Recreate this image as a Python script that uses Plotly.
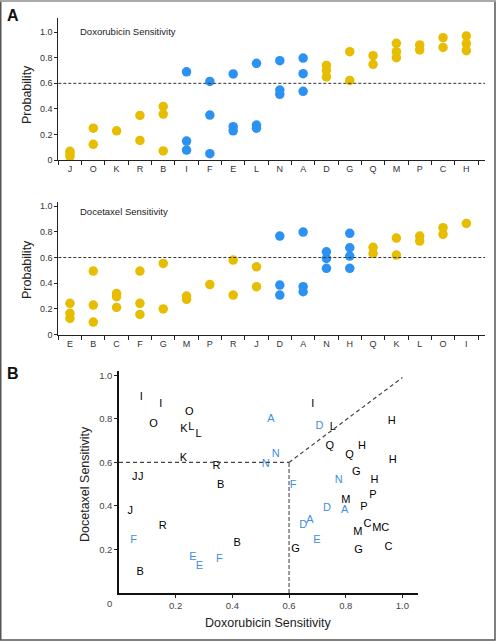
import plotly.graph_objects as go

W, H = 496, 641

# ---------------- data ----------------
dox_cats = ["J", "O", "K", "R", "B", "I", "F", "E", "L", "N", "A", "D", "G", "Q", "M", "P", "C", "H"]
dox_vals = [
    [0.07, 0.05, 0.03], [0.25, 0.125], [0.23], [0.35, 0.155], [0.42, 0.36, 0.073],
    [0.69, 0.15, 0.08], [0.615, 0.353, 0.052], [0.673, 0.262, 0.23], [0.756, 0.275, 0.25],
    [0.777, 0.548, 0.514], [0.797, 0.675, 0.538], [0.74, 0.70, 0.65], [0.847, 0.623],
    [0.816, 0.748], [0.912, 0.847, 0.80], [0.899, 0.86], [0.956, 0.88], [0.969, 0.91, 0.855],
]
dox_blue = ["I", "F", "E", "L", "N", "A"]

doc_cats = ["E", "B", "C", "F", "G", "M", "P", "R", "J", "D", "A", "N", "H", "Q", "K", "L", "O", "I"]
doc_vals = [
    [0.244, 0.166, 0.127], [0.495, 0.23, 0.098], [0.32, 0.295, 0.212], [0.495, 0.244, 0.158],
    [0.554, 0.20], [0.30, 0.275], [0.39], [0.58, 0.308], [0.528, 0.373],
    [0.767, 0.386, 0.308], [0.798, 0.373, 0.334], [0.645, 0.593, 0.516],
    [0.788, 0.676, 0.611, 0.516], [0.679, 0.632], [0.751, 0.619], [0.767, 0.728],
    [0.832, 0.78], [0.865],
]
doc_blue = ["D", "A", "N", "H"]

threshold = 0.6

scatter_labels = ["I", "I", "O", "O", "K", "L", "L", "K", "R", "B", "J", "J", "J", "R", "F", "B",
                  "E", "E", "F", "B", "A", "N", "N", "I", "D", "L", "Q", "H", "Q", "H", "H", "G",
                  "F", "N", "H", "P", "M", "P", "D", "A", "A", "D", "C", "M", "C", "M", "E", "G",
                  "G", "C"]
scatter_dox = [0.079, 0.147, 0.248, 0.122, 0.229, 0.255, 0.281, 0.227, 0.344, 0.359, 0.056, 0.077,
               0.040, 0.154, 0.052, 0.075, 0.261, 0.284, 0.354, 0.417, 0.536, 0.553, 0.518, 0.684,
               0.707, 0.754, 0.744, 0.857, 0.813, 0.962, 0.966, 0.837, 0.614, 0.775, 0.901, 0.896,
               0.800, 0.864, 0.734, 0.796, 0.674, 0.650, 0.877, 0.910, 0.939, 0.843, 0.698, 0.623,
               0.845, 0.951]
scatter_doc = [0.900, 0.866, 0.830, 0.777, 0.754, 0.760, 0.730, 0.621, 0.584, 0.493, 0.533, 0.533,
               0.374, 0.309, 0.243, 0.096, 0.165, 0.124, 0.157, 0.229, 0.799, 0.639, 0.592, 0.866,
               0.767, 0.760, 0.676, 0.676, 0.635, 0.788, 0.612, 0.556, 0.495, 0.518, 0.517, 0.451,
               0.425, 0.394, 0.389, 0.380, 0.334, 0.311, 0.318, 0.297, 0.297, 0.280, 0.243, 0.200,
               0.196, 0.209]
scatter_blue_letters = ["A", "D", "E", "F", "N"]

diag_end = (1.0, 0.99)

# ---------------- styling ----------------
YELLOW = "#E6BD00"
BLUE = "#2C92F2"
LBLUE = "#3D8FE0"
FONT = "Liberation Sans, Arial, Helvetica, sans-serif"


def px(x):
    return x / W


def py(y):
    return 1 - y / H


fig = go.Figure()


def add_dot_panel(cats, vals, blues, xa, ya):
    for color, pick in ((YELLOW, lambda c: c not in blues), (BLUE, lambda c: c in blues)):
        xs, ys = [], []
        for c, v in zip(cats, vals):
            if pick(c):
                for val in v:
                    xs.append(c)
                    ys.append(val)
        fig.add_trace(go.Scatter(x=xs, y=ys, mode="markers", xaxis=xa, yaxis=ya,
                                 marker=dict(color=color, size=9.5, line=dict(width=0)),
                                 showlegend=False, hoverinfo="skip"))


add_dot_panel(dox_cats, dox_vals, dox_blue, "x", "y")
add_dot_panel(doc_cats, doc_vals, doc_blue, "x2", "y2")

colors_b = [LBLUE if l in scatter_blue_letters else "#000000" for l in scatter_labels]
fig.add_trace(go.Scatter(x=scatter_dox, y=scatter_doc, mode="text", text=scatter_labels,
                         textposition="middle center", xaxis="x3", yaxis="y3",
                         textfont=dict(family=FONT, size=11, color=colors_b),
                         showlegend=False, hoverinfo="skip"))

# ---------------- axes ----------------
common_y = dict(tickvals=[0, 0.2, 0.4, 0.6, 0.8, 1.0], ticktext=["0", "0.2", "0.4", "0.6", "0.8", "1.0"],
                ticks="outside", ticklen=3, tickwidth=1, tickcolor="#222", showline=True,
                linecolor="#222", linewidth=1, showgrid=False, zeroline=False,
                tickfont=dict(family=FONT, size=9, color="#333"), automargin=False)
common_x = dict(type="category", tickson="boundaries", ticks="outside", ticklen=4, tickwidth=1,
                tickcolor="#222", showline=True, linecolor="#222", linewidth=1, showgrid=False,
                zeroline=False, tickfont=dict(family=FONT, size=9, color="#333"), automargin=False,
                range=[-0.5, 17.8])

fig.update_layout(
    xaxis=dict(common_x, domain=[px(58.3), px(485)], anchor="y", categoryarray=dox_cats,
               categoryorder="array"),
    yaxis=dict(common_y, domain=[py(160.3), py(18.3)], anchor="x", range=[0, 1.107]),
    xaxis2=dict(common_x, domain=[px(58.3), px(485)], anchor="y2", categoryarray=doc_cats,
                categoryorder="array"),
    yaxis2=dict(common_y, domain=[py(334.7), py(201.7)], anchor="x2", range=[0, 1.034]),
    xaxis3=dict(domain=[px(119), px(418.3)], anchor="y3", range=[0, 1.056],
                tickvals=[0.2, 0.4, 0.6, 0.8, 1.0], ticktext=["0.2", "0.4", "0.6", "0.8", "1.0"],
                ticks="outside", ticklen=3, tickcolor="#222", showline=True, linecolor="#111",
                linewidth=1.5, showgrid=False, zeroline=False,
                tickfont=dict(family=FONT, size=9.5, color="#444"), automargin=False),
    yaxis3=dict(domain=[py(593), py(371)], anchor="x3", range=[0, 1.02],
                tickvals=[0.2, 0.4, 0.6, 0.8, 1.0], ticktext=["0.2", "0.4", "0.6", "0.8", "1.0"],
                ticks="outside", ticklen=3, tickcolor="#222", showline=True, linecolor="#111",
                linewidth=1.5, showgrid=False, zeroline=False,
                tickfont=dict(family=FONT, size=9.5, color="#444"), automargin=False),
)

# ---------------- shapes ----------------
shapes = [
    dict(type="line", xref="x domain", yref="y", x0=0, x1=1, y0=threshold, y1=threshold,
         line=dict(color="#333", width=1, dash="3px,2px")),
    dict(type="line", xref="x2 domain", yref="y2", x0=0, x1=1, y0=threshold, y1=threshold,
         line=dict(color="#333", width=1, dash="3px,2px")),
    dict(type="line", xref="x3", yref="y3", x0=0, x1=threshold, y0=threshold, y1=threshold,
         line=dict(color="#444", width=1.2, dash="4px,3px")),
    dict(type="line", xref="x3", yref="y3", x0=threshold, x1=threshold, y0=0, y1=threshold,
         line=dict(color="#666", width=1.3, dash="4px,2px")),
    dict(type="line", xref="x3", yref="y3", x0=threshold, x1=diag_end[0], y0=threshold, y1=diag_end[1],
         line=dict(color="#444", width=1.2, dash="4px,3px")),
    dict(type="rect", xref="paper", yref="paper", x0=px(0.75), x1=px(W - 1), y0=py(H - 1), y1=py(0.75),
         line=dict(color="#555", width=1.5), fillcolor="rgba(0,0,0,0)"),
    dict(type="line", xref="paper", yref="paper", x0=0, x1=1, y0=py(0.8), y1=py(0.8),
         line=dict(color="#aaa", width=2)),
]
fig.update_layout(shapes=shapes)

# ---------------- annotations ----------------
ann = [
    dict(text="<b>A</b>", x=px(13), y=py(15), font=dict(family=FONT, size=16, color="#111")),
    dict(text="<b>B</b>", x=px(13), y=py(373), font=dict(family=FONT, size=16, color="#111")),
    dict(text="Probability", x=px(27), y=py(95), textangle=-90,
         font=dict(family=FONT, size=12.5, color="#222")),
    dict(text="Probability", x=px(27), y=py(270), textangle=-90,
         font=dict(family=FONT, size=12.5, color="#222")),
    dict(text="Doxorubicin Sensitivity", x=px(78), y=py(31), xanchor="left",
         font=dict(family=FONT, size=9.5, color="#222")),
    dict(text="Docetaxel Sensitivity", x=px(78), y=py(211), xanchor="left",
         font=dict(family=FONT, size=9.5, color="#222")),
    dict(text="Docetaxel Sensitivity", x=px(85), y=py(484), textangle=-90,
         font=dict(family=FONT, size=12.5, color="#222")),
    dict(text="Doxorubicin Sensitivity", x=px(268), y=py(623),
         font=dict(family=FONT, size=12.5, color="#222")),
    dict(text="0", x=px(109), y=py(603), font=dict(family=FONT, size=9.5, color="#444")),
]
for a in ann:
    a.update(xref="paper", yref="paper", showarrow=False)
    a.setdefault("xanchor", "center")
    a.setdefault("yanchor", "middle")
fig.update_layout(annotations=ann)

fig.update_layout(width=W, height=H, margin=dict(l=0, r=0, t=0, b=0),
                  paper_bgcolor="white", plot_bgcolor="white", showlegend=False)

fig.write_html("out.html", config={"displayModeBar": False},
               post_script="document.body.style.margin='0px';document.body.style.overflow='hidden';")
